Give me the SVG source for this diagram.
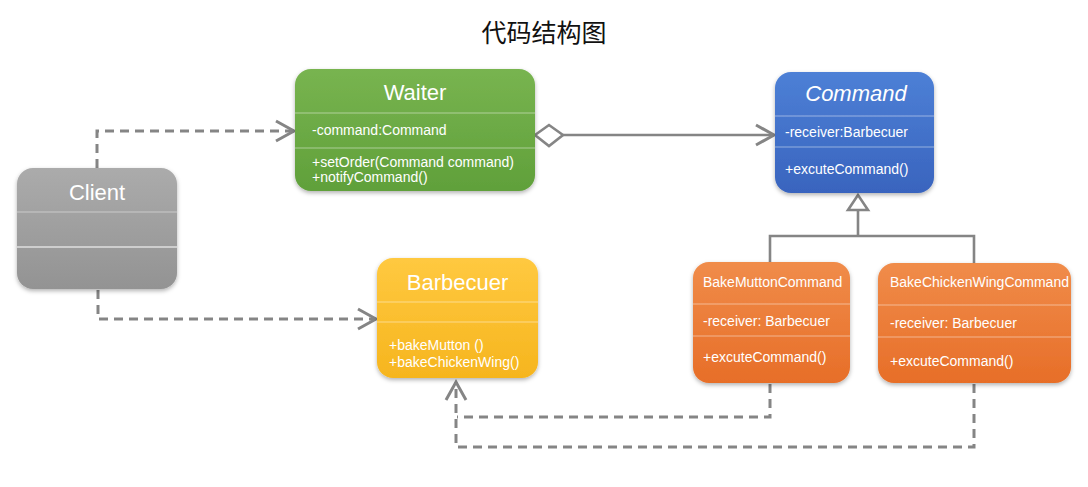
<svg xmlns="http://www.w3.org/2000/svg" width="1088" height="487" viewBox="0 0 1088 487">
<defs>
<style>
.t{font-family:"Liberation Sans",Arial,sans-serif;fill:#ffffff;}
.h{font-size:22px;text-anchor:middle;}
.a{font-size:14px;}
.div{stroke:#ffffff;stroke-opacity:0.45;stroke-width:1;}
.dash{fill:none;stroke:#858585;stroke-width:3;stroke-dasharray:9 6;}
.sol{fill:none;stroke:#858585;stroke-width:2.6;}
</style>
<linearGradient id="gG" x1="0" y1="0" x2="0" y2="1"><stop offset="0" stop-color="#78b450"/><stop offset="1" stop-color="#60a03a"/></linearGradient>
<linearGradient id="gB" x1="0" y1="0" x2="0" y2="1"><stop offset="0" stop-color="#4d80d6"/><stop offset="1" stop-color="#3964be"/></linearGradient>
<linearGradient id="gY" x1="0" y1="0" x2="0" y2="1"><stop offset="0" stop-color="#ffc940"/><stop offset="1" stop-color="#f6b51e"/></linearGradient>
<linearGradient id="gO" x1="0" y1="0" x2="0" y2="1"><stop offset="0" stop-color="#f08c4a"/><stop offset="1" stop-color="#e76e28"/></linearGradient>
<linearGradient id="gC" x1="0" y1="0" x2="0" y2="1"><stop offset="0" stop-color="#ababab"/><stop offset="1" stop-color="#939393"/></linearGradient>
<filter id="sh" x="-10%" y="-10%" width="120%" height="130%"><feDropShadow dx="0" dy="2" stdDeviation="2" flood-color="#000" flood-opacity="0.3"/></filter>
<marker id="arr" markerUnits="userSpaceOnUse" markerWidth="22" markerHeight="24" refX="19" refY="11" orient="auto" overflow="visible">
<path d="M1,1 L19,11 L1,21" fill="none" stroke="#858585" stroke-width="3" stroke-dasharray="none"/>
</marker>
</defs>
<rect width="1088" height="487" fill="#ffffff"/>
<text x="544" y="42" font-family="'Noto Sans CJK SC',sans-serif" font-size="25" text-anchor="middle" fill="#111">代码结构图</text>

<g id="connectors">
<path class="dash" d="M97,168 V131 H294" marker-end="url(#arr)"/>
<path class="dash" d="M98,290 V319 H376" marker-end="url(#arr)"/>
<path class="sol" d="M563,135 H774" marker-end="url(#arr)"/>
<polygon points="535,135 549,125 563,135 549,146" fill="#ffffff" stroke="#858585" stroke-width="2.6"/>
<path class="sol" d="M858,210 V236 M770,262 V236 H974 V263"/>
<polygon points="858,195 848,210 868,210" fill="#ffffff" stroke="#858585" stroke-width="2.6"/>
<path class="dash" d="M770,384 V417 H457"/>
<path class="dash" d="M974,384 V447 H456 V382" marker-end="url(#arr)"/>
</g>

<g id="waiter">
<rect x="295" y="69" width="240" height="122" rx="16" fill="url(#gG)" filter="url(#sh)"/>
<line class="div" x1="295" y1="113" x2="535" y2="113"/>
<line class="div" x1="295" y1="148" x2="535" y2="148"/>
<text class="t h" x="415" y="100">Waiter</text>
<text class="t a" x="312" y="135" font-size="14.5">-command:Command</text>
<text class="t a" x="312" y="167">+setOrder(Command command)</text>
<text class="t a" x="312" y="182">+notifyCommand()</text>
</g>

<g id="command">
<rect x="775" y="72" width="159" height="121" rx="16" fill="url(#gB)" filter="url(#sh)"/>
<line class="div" x1="775" y1="116" x2="934" y2="116"/>
<line class="div" x1="775" y1="147" x2="934" y2="147"/>
<text class="t h" x="856" y="101" font-style="italic" font-size="22.5">Command</text>
<text class="t a" x="785" y="137">-receiver:Barbecuer</text>
<text class="t a" x="785" y="174">+excuteCommand()</text>
</g>

<g id="client">
<rect x="17" y="168" width="160" height="121" rx="16" fill="url(#gC)" filter="url(#sh)"/>
<line class="div" x1="17" y1="212" x2="177" y2="212"/>
<line x1="17" y1="247" x2="177" y2="247" stroke="#ffffff" stroke-width="1.2"/>
<text class="t h" x="97" y="200">Client</text>
</g>

<g id="barbecuer">
<rect x="377" y="258" width="161" height="120" rx="16" fill="url(#gY)" filter="url(#sh)"/>
<line class="div" x1="377" y1="302" x2="538" y2="302"/>
<line class="div" x1="377" y1="322" x2="538" y2="322"/>
<text class="t h" x="457.5" y="290">Barbecuer</text>
<text class="t a" x="389" y="350">+bakeMutton ()</text>
<text class="t a" x="389" y="367">+bakeChickenWing()</text>
</g>

<g id="bakeMuttonCommand">
<rect x="693" y="262" width="157" height="121" rx="16" fill="url(#gO)" filter="url(#sh)"/>
<line class="div" x1="693" y1="304" x2="850" y2="304"/>
<line class="div" x1="693" y1="336" x2="850" y2="336"/>
<text class="t a" x="703" y="287" font-size="13.6">BakeMuttonCommand</text>
<text class="t a" x="703" y="326">-receiver: Barbecuer</text>
<text class="t a" x="703" y="362">+excuteCommand()</text>
</g>

<g id="bakeChickenWingCommand">
<rect x="878" y="263" width="193" height="120" rx="16" fill="url(#gO)" filter="url(#sh)"/>
<line class="div" x1="878" y1="305" x2="1071" y2="305"/>
<line class="div" x1="878" y1="337" x2="1071" y2="337"/>
<text class="t a" x="890" y="287" font-size="13">BakeChickenWingCommand</text>
<text class="t a" x="890" y="328">-receiver: Barbecuer</text>
<text class="t a" x="890" y="366">+excuteCommand()</text>
</g>
</svg>
